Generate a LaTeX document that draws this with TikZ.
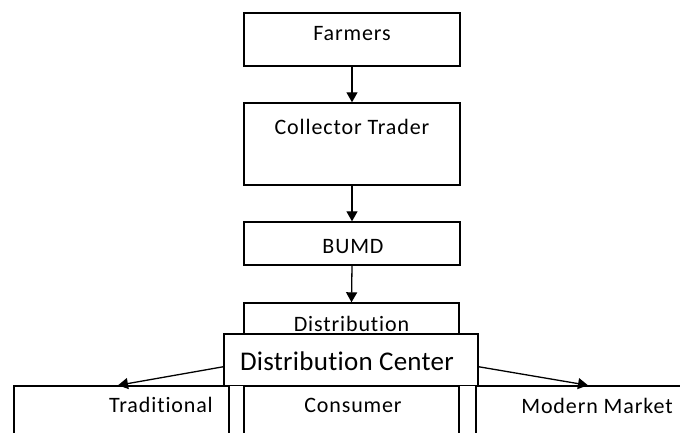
\documentclass[tikz,border=0pt]{standalone}
\usepackage{fontspec}
\setmainfont{Carlito}[Ligatures=CommonOff]
\newfontfamily\lblfont{Carlito}[LetterSpace=4,Ligatures=CommonOff]
\newfontfamily\biglblfont{Carlito}[LetterSpace=1,Ligatures=CommonOff]
\usetikzlibrary{arrows.meta}
\begin{document}
\begin{tikzpicture}[x=1pt,y=-1pt,
  box/.style={draw=black, fill=white, line width=1.4pt, rectangle, inner sep=0pt},
  lbl/.style={anchor=base, inner sep=0pt, font=\lblfont\fontsize{22}{26}\selectfont},
  biglbl/.style={anchor=base, inner sep=0pt, font=\biglblfont\fontsize{27}{32}\selectfont},
  arr/.style={line width=1.3pt, -{Triangle[width=11pt,length=10pt]}}]
\useasboundingbox (0,0) rectangle (680,433);
\clip (0,0) rectangle (680,433);
% boxes
\node[box, minimum width=216pt, minimum height=53pt] (farmers) at (352,39.5) {};
\node[box, minimum width=216pt, minimum height=82pt] (collector) at (352,144) {};
\node[box, minimum width=216pt, minimum height=43pt] (bumd) at (352,243.5) {};
\node[box, minimum width=215pt, minimum height=84pt] (trad) at (121.5,428) {};
\node[box, minimum width=215pt, minimum height=84pt] (cons) at (351.5,428) {};
\node[box, minimum width=224pt, minimum height=84pt] (modern) at (588,428) {};
\node[box, minimum width=215pt, minimum height=82pt] (dist) at (351.5,344) {};
\node[box, minimum width=254pt, minimum height=51.5pt] (dc) at (351,359.75) {};
% labels
\node[lbl] (tfarm) at (352,41) {Farmers};
\node[lbl] (tcoll) at (352,135) {Collector Trader};
\node[lbl] (tbumd) at (353,253) {BUMD};
\node[lbl] (tdist) at (351.5,331) {Distribution};
\node[biglbl] (tdc) at (347,370) {Distribution Center};
\node[lbl] (ttrad) at (161,412) {Traditional};
\node[lbl] (tcons) at (353,412) {Consumer};
\node[lbl] (tmod) at (597,413) {Modern Market};
% connectors
\draw[arr] (farmers.south) -- (collector.north);
\draw[arr] (collector.south) -- (bumd.north);
\draw[arr] (bumd.south) -- (dist.north);
\coordinate (lstart) at ([yshift=-7pt]dc.west);
\coordinate (lend) at ([xshift=-3.5pt]trad.north);
\coordinate (rstart) at ([yshift=-7pt]dc.east);
\draw[arr] (lstart) -- (lend);
\draw[arr] (rstart) -- (modern.north);
\end{tikzpicture}
\end{document}
